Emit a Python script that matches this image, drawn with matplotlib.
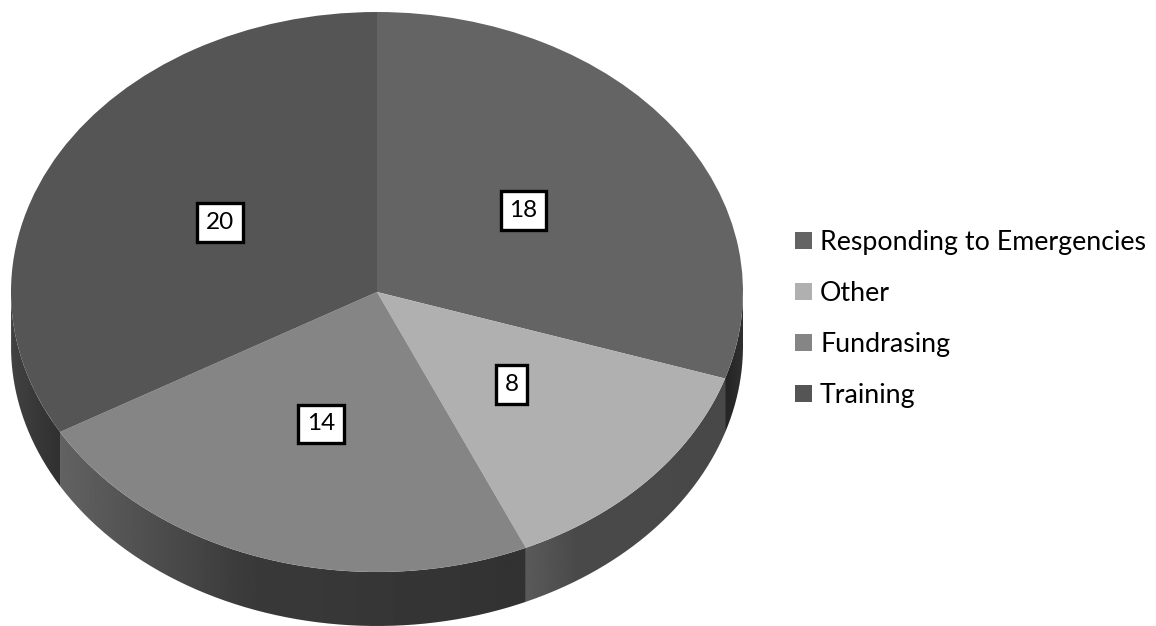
# -*- coding: utf-8 -*-
import numpy as np
import matplotlib
matplotlib.use('Agg')
import matplotlib.pyplot as plt
from matplotlib.path import Path
from matplotlib.patches import PathPatch

plt.rcParams['font.family'] = ['Lato', 'DejaVu Sans']

labels = ['Responding to Emergencies', 'Other', 'Fundrasing', 'Training']
values = [18, 8, 14, 20]
colors = ['#646464', '#b0b0b0', '#858585', '#555555']

# side wall shading, (position across the wedge, gray level)
wall_shades = [
    [(0, 0x24), (1, 0x30)],
    [(0, 0x5a), (0.25, 0x4a), (1, 0x48)],
    [(0, 0x62), (0.4, 0x3a), (1, 0x32)],
    [(0, 0x42), (1, 0x30)],
]

W, H = 1156, 626
cx, cy = 377, 292   # pie centre in pixels
rx, ry = 366, 280   # ellipse radii in pixels
depth = 54 / ry

fig = plt.figure(figsize=(W / 100, H / 100), dpi=100)
ax = fig.add_axes([0, 0, 1, 1])

xlim = (-cx / rx, (W - cx) / rx)
ylim = ((cy - H) / ry, cy / ry)

# side walls first, pie goes on top
start = 0
for v, shade in zip(values, wall_shades):
    stop = start + 360 * v / sum(values)
    t0, t1 = max(start, 90), min(stop, 270)
    if t0 < t1:
        t = np.radians(np.linspace(t0, t1, 200))
        x = np.sin(t)
        y = np.cos(t)
        verts = np.vstack([np.column_stack([x, y]),
                           np.column_stack([x[::-1], y[::-1] - depth])])
        verts = np.vstack([verts, verts[:1]])
        x0, x1 = x.min(), x.max()
        u = np.linspace(0, 1, 256)
        pos, gray = zip(*shade)
        g = np.interp(u, pos, gray) / 255
        # pos runs left to right on screen
        im = ax.imshow(g[np.newaxis, :], cmap='gray', vmin=0, vmax=1, aspect='auto',
                       extent=(x0, x1, -1.3, 1.1), zorder=1)
        patch = PathPatch(Path(verts), transform=ax.transData, fc='none', ec='none')
        ax.add_patch(patch)
        im.set_clip_path(patch)
    start = stop

wedges, texts, autotexts = ax.pie(
    values, colors=colors, startangle=90, counterclock=False, radius=1,
    autopct=lambda p: '%d' % round(p * sum(values) / 100), pctdistance=0.495,
    wedgeprops={'linewidth': 0, 'zorder': 2})

for a in autotexts:
    a.set_fontsize(17.5)
    a.set_color('black')
    a.set_zorder(5)
    a.set_bbox({'boxstyle': 'square,pad=0.36', 'fc': 'white', 'ec': 'black', 'lw': 2.4})

ax.set_aspect('auto')
ax.set_xlim(xlim)
ax.set_ylim(ylim)
ax.axis('off')

ax.legend(wedges, labels, loc='center left', frameon=False,
          bbox_to_anchor=(795 / W, 1 - 319 / H), bbox_transform=ax.transAxes,
          fontsize=19.3, handlelength=0.635, handleheight=0.635, handletextpad=0.3,
          labelspacing=0.97, borderpad=0, borderaxespad=0)

fig.savefig('out.png', dpi=100)
